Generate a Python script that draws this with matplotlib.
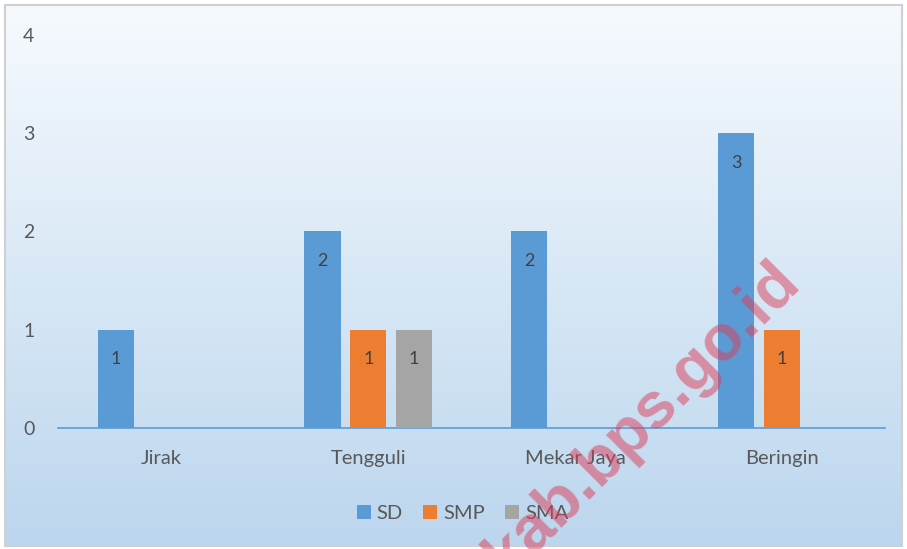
import numpy as np
import matplotlib.pyplot as plt
from matplotlib.patches import Patch

# datos del grafico
desa = ['Jirak', 'Tengguli', 'Mekar Jaya', 'Beringin']
sd = [1, 2, 2, 3]
smp = [0, 1, 0, 1]
sma = [0, 1, 0, 0]
series = [('SD', sd, '#5B9BD5'), ('SMP', smp, '#ED7D31'), ('SMA', sma, '#A5A5A5')]
yticks = [0, 1, 2, 3, 4]

plt.rcParams['font.family'] = ['Lato', 'DejaVu Sans']

fig = plt.figure(figsize=(9.07, 5.49), dpi=100)

# fondo con degradado y marco gris
bg = fig.add_axes([0.006, 0.005, 0.988, 0.986])
grad = np.linspace(0, 1, 256).reshape(-1, 1)
top = np.array([246, 250, 254]) / 255
bot = np.array([188, 214, 238]) / 255
img = top + (bot - top) * grad[:, :, None]
bg.imshow(img, aspect='auto', extent=[0, 1, 0, 1])
bg.set_xticks([])
bg.set_yticks([])
for s in bg.spines.values():
    s.set_color('#d0d0d0')
    s.set_linewidth(1.5)

ax = fig.add_axes([0.064, 0.2204, 0.912, 0.716])
ax.set_facecolor('none')
x = np.arange(len(desa))
w = 0.175
off = 0.221
for i, (nombre, vals, col) in enumerate(series):
    pos = x + (i - 1) * off
    for xp, v in zip(pos, vals):
        if v > 0:
            ax.bar(xp, v, width=w, color=col, zorder=3)
            ax.text(xp, v - 0.3, str(v), ha='center', va='center',
                    fontsize=13, color='#404040', zorder=4)

ax.set_xlim(-0.5, 3.5)
ax.set_ylim(0, 4)
ax.set_yticks(yticks)
ax.set_xticks(x)
ax.set_xticklabels(desa)
ax.tick_params(axis='y', length=0, pad=17, labelsize=14, labelcolor='#595959')
ax.tick_params(axis='x', length=0, pad=16, labelsize=14.5, labelcolor='#595959')
for s in ['top', 'right', 'left']:
    ax.spines[s].set_visible(False)
ax.spines['bottom'].set_color('#5B9BD5')
ax.spines['bottom'].set_linewidth(1.2)

handles = [Patch(facecolor=c, label=n) for n, _, c in series]
fig.legend(handles=handles, loc='center', bbox_to_anchor=(0.51, 0.064), ncol=3,
           frameon=False, fontsize=14.5, labelcolor='#595959', handlelength=0.7,
           handleheight=0.7, handletextpad=0.3, columnspacing=1.0)

# marca de agua
fig.text(0.722, 0.215, 'kab.bps.go.id', rotation=45, rotation_mode='anchor',
         ha='center', va='baseline', fontsize=46.5, fontweight='bold',
         family='Liberation Sans', color='#dc3a55', alpha=0.5, zorder=10)

fig.savefig('out.png', dpi=100)
